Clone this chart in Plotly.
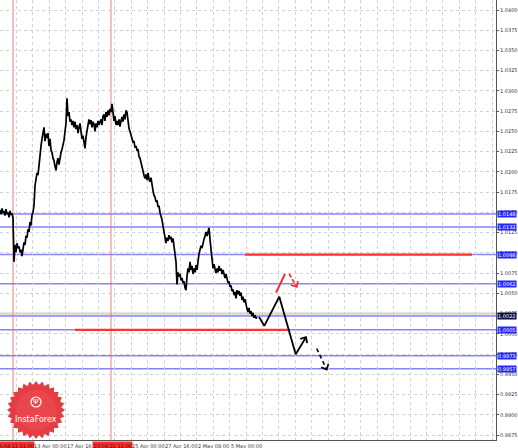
import math
import plotly.graph_objects as go

# ---------------- data ----------------
price = [
    1.0153, 1.0148, 1.0155, 1.0149, 1.0152, 1.0146, 1.0154, 1.0148, 1.0150, 1.0144,
    1.0152, 1.0147, 1.0149, 1.0143, 1.0089, 1.0110, 1.0101, 1.0112, 1.0106, 1.0108,
    1.0101, 1.0104, 1.0096, 1.0106, 1.0113, 1.0110, 1.0121, 1.0119, 1.0129, 1.0126,
    1.0138, 1.0134, 1.0147, 1.0150, 1.0159, 1.0183, 1.0192, 1.0199, 1.0196, 1.0212,
    1.0218, 1.0232, 1.0241, 1.0248, 1.0255, 1.0238, 1.0247, 1.0242, 1.0248, 1.0232,
    1.0241, 1.0227, 1.0224, 1.0217, 1.0214, 1.0207, 1.0202, 1.0212, 1.0217, 1.0209,
    1.0219, 1.0224, 1.0228, 1.0233, 1.0239, 1.0250, 1.0260, 1.0291, 1.0269, 1.0274,
    1.0262, 1.0265, 1.0258, 1.0263, 1.0255, 1.0262, 1.0253, 1.0258, 1.0248, 1.0255,
    1.0260, 1.0250, 1.0241, 1.0245, 1.0235, 1.0229, 1.0243, 1.0253, 1.0258, 1.0265,
    1.0259, 1.0264, 1.0255, 1.0262, 1.0259, 1.0250, 1.0260, 1.0255, 1.0263, 1.0258,
    1.0262, 1.0265, 1.0258, 1.0269, 1.0271, 1.0263, 1.0274, 1.0268, 1.0276, 1.0270,
    1.0278, 1.0274, 1.0284, 1.0271, 1.0263, 1.0269, 1.0258, 1.0263, 1.0258, 1.0265,
    1.0256, 1.0263, 1.0268, 1.0262, 1.0271, 1.0265, 1.0276, 1.0274, 1.0260, 1.0254,
    1.0250, 1.0245, 1.0243, 1.0237, 1.0238, 1.0230, 1.0232, 1.0227, 1.0228, 1.0219,
    1.0217, 1.0211, 1.0207, 1.0202, 1.0196, 1.0192, 1.0197, 1.0190, 1.0199, 1.0191,
    1.0188, 1.0193, 1.0183, 1.0177, 1.0171, 1.0169, 1.0163, 1.0165, 1.0157, 1.0158,
    1.0150, 1.0146, 1.0141, 1.0133, 1.0127, 1.0121, 1.0112, 1.0119, 1.0115, 1.0122,
    1.0117, 1.0120, 1.0113, 1.0118, 1.0109, 1.0098, 1.0089, 1.0061, 1.0076, 1.0071,
    1.0074, 1.0066, 1.0069, 1.0063, 1.0065, 1.0057, 1.0054, 1.0071, 1.0081, 1.0076,
    1.0089, 1.0079, 1.0084, 1.0074, 1.0081, 1.0076, 1.0085, 1.0079, 1.0094, 1.0099,
    1.0104, 1.0109, 1.0106, 1.0113, 1.0117, 1.0121, 1.0126, 1.0121, 1.0129, 1.0131,
    1.0117, 1.0104, 1.0089, 1.0081, 1.0086, 1.0079, 1.0075, 1.0081, 1.0076, 1.0084,
    1.0078, 1.0081, 1.0074, 1.0079, 1.0071, 1.0069, 1.0074, 1.0066, 1.0063, 1.0065,
    1.0058, 1.0060, 1.0053, 1.0055, 1.0048, 1.0052, 1.0044, 1.0054, 1.0049, 1.0053,
    1.0047, 1.0051, 1.0042, 1.0046, 1.0039, 1.0043, 1.0034, 1.0031, 1.0027, 1.0032,
    1.0025, 1.0028, 1.0022, 1.0026, 1.0020, 1.0023, 1.0019, 1.0021,
]
bar_index = list(range(len(price)))

blue_levels = [1.0148, 1.0132, 1.0098, 1.0062, 1.0022, 1.0005, 0.9973, 0.9957]
blue_labels = ["1.0148", "1.0132", "1.0098", "1.0062", "1.0022", "1.0005", "0.9973", "0.9957"]
bid_level = 1.0025

red_levels = [1.0098, 1.0005]
red_start = [245, 75]
red_end = [472, 290]

vline_x = [13, 111]
vline_labels = ["23.04.11 11:00", "23.04.21 11:00"]

xtick_pos = [32.8, 65.6, 131.2, 164.0, 196.8, 229.6]
xtick_text = ["13 Apr 00:00", "17 Apr 16:00", "25 Apr 00:00",
              "27 Apr 16:00", "2 May 08:00", "5 May 00:00"]

# forecast paths
fc_main_x = [259, 264.3, 279.3, 295.7, 306]
fc_main_y = [1.0021, 1.0010, 1.0046, 0.9975, 0.9996]
fc_dash_x = [316.7, 326.7]
fc_dash_y = [0.9982, 0.9956]
red_up_x = [276, 285]
red_up_y = [1.0051, 1.0074]
red_dn_x = [289.3, 296.7]
red_dn_y = [1.0074, 1.0058]

# ---------------- layout constants ----------------
W, H = 518, 448
ML, MR, MT, MB = 0, 22, 0, 8
PW, PH = W - ML - MR, H - MT - MB
X_RANGE = [0, 496]
Y_RANGE = [0.98690, 1.041235]
kx = PW / (X_RANGE[1] - X_RANGE[0])
ky = PH / (Y_RANGE[1] - Y_RANGE[0])


def chevron(xs, ys, size=6.0, ang=42):
    x0, y0, x1, y1 = xs[-2], ys[-2], xs[-1], ys[-1]
    dx, dy = (x0 - x1) * kx, (y0 - y1) * ky
    L = math.hypot(dx, dy)
    ux, uy = dx / L, dy / L
    pts = []
    for s in (1, -1):
        a = math.radians(ang * s)
        rx = ux * math.cos(a) - uy * math.sin(a)
        ry = ux * math.sin(a) + uy * math.cos(a)
        pts.append((x1 + rx * size / kx, y1 + ry * size / ky))
    return [pts[0][0], x1, pts[1][0]], [pts[0][1], y1, pts[1][1]]


fig = go.Figure()

# price
fig.add_trace(go.Scatter(x=bar_index, y=price, mode="lines",
                         line=dict(color="black", width=1.7), hoverinfo="skip"))

# red segments
for lv, a, b in zip(red_levels, red_start, red_end):
    fig.add_trace(go.Scatter(x=[a, b], y=[lv, lv], mode="lines",
                             line=dict(color="#ff3333", width=2.2), hoverinfo="skip"))

# forecast black
fig.add_trace(go.Scatter(x=fc_main_x, y=fc_main_y, mode="lines",
                         line=dict(color="black", width=1.8), hoverinfo="skip"))
hx, hy = chevron(fc_main_x, fc_main_y)
fig.add_trace(go.Scatter(x=hx, y=hy, mode="lines", line=dict(color="black", width=1.8),
                         hoverinfo="skip"))
fig.add_trace(go.Scatter(x=fc_dash_x, y=fc_dash_y, mode="lines",
                         line=dict(color="black", width=1.6, dash="4px,3px"), hoverinfo="skip"))
hx, hy = chevron(fc_dash_x, fc_dash_y)
fig.add_trace(go.Scatter(x=hx, y=hy, mode="lines", line=dict(color="black", width=1.6),
                         hoverinfo="skip"))
# forecast red
fig.add_trace(go.Scatter(x=red_up_x, y=red_up_y, mode="lines",
                         line=dict(color="#ff2020", width=1.8), hoverinfo="skip"))
fig.add_trace(go.Scatter(x=red_dn_x, y=red_dn_y, mode="lines",
                         line=dict(color="#ff2020", width=1.6, dash="4px,2px"), hoverinfo="skip"))
hx, hy = chevron(red_dn_x, red_dn_y)
fig.add_trace(go.Scatter(x=hx, y=hy, mode="lines", line=dict(color="#ff2020", width=1.6),
                         hoverinfo="skip"))

shapes = []
# bid band
shapes.append(dict(type="line", xref="paper", x0=0, x1=1, yref="y", y0=bid_level, y1=bid_level,
                   line=dict(color="#dddddd", width=3), layer="between"))
# blue levels
for lv in blue_levels:
    shapes.append(dict(type="line", xref="paper", x0=0, x1=1, yref="y", y0=lv, y1=lv,
                       line=dict(color="rgba(110,110,255,0.85)", width=1.5), layer="between"))
# vertical red lines
for vx in vline_x:
    shapes.append(dict(type="line", xref="x", x0=vx, x1=vx, yref="paper", y0=0, y1=1,
                       line=dict(color="rgba(240,90,90,0.8)", width=1), layer="between"))

# logo starburst
cxp, cyp = 36, 410
R_out, R_in, n = 29, 25.5, 28
pts = []
for i in range(2 * n):
    r = R_out if i % 2 == 0 else R_in
    t = math.pi * i / n
    px = cxp + r * math.cos(t)
    py = cyp + r * math.sin(t)
    pts.append((px / PW, 1 - py / PH))
path = "M " + " L ".join(f"{x:.5f},{y:.5f}" for x, y in pts) + " Z"
shapes.append(dict(type="path", xref="paper", yref="paper", path=path,
                   fillcolor="rgba(226,52,58,0.95)", line=dict(width=0), layer="above"))
shapes.append(dict(type="circle", xref="paper", yref="paper",
                   x0=(cxp - 20) / PW, x1=(cxp + 20) / PW,
                   y0=1 - (cyp + 20) / PH, y1=1 - (cyp - 20) / PH,
                   fillcolor="rgba(240,80,85,0.5)", line=dict(width=0), layer="above"))
shapes.append(dict(type="circle", xref="paper", yref="paper",
                   x0=(cxp - 5) / PW, x1=(cxp + 5) / PW,
                   y0=1 - (cyp - 3) / PH, y1=1 - (cyp - 13) / PH,
                   fillcolor="rgba(0,0,0,0)", line=dict(color="white", width=1.2), layer="above"))

annotations = []
for lv, txt in zip(blue_levels, blue_labels):
    annotations.append(dict(x=1, xref="paper", xanchor="left", xshift=1, y=lv, yref="y",
                            text=txt, showarrow=False, borderpad=0,
                            bgcolor="#0c0c40" if txt == "1.0022" else "#2626ff",
                            font=dict(color="white", size=5, family="DejaVu Sans")))
for xp, txt in zip(xtick_pos, xtick_text):
    annotations.append(dict(x=xp, xref="x", xanchor="left", xshift=-1, y=0, yref="paper",
                            yanchor="top", yshift=-1, text=txt, showarrow=False,
                            font=dict(color="#333333", size=5, family="DejaVu Sans")))
for vx, txt in zip(vline_x, vline_labels):
    annotations.append(dict(x=vx, xref="x", xanchor="center", xshift=1.5, y=0, yref="paper",
                            yanchor="top", yshift=-0.5, text=txt, showarrow=False,
                            bgcolor="#ff2a2a", borderpad=0.5,
                            font=dict(color="#222222", size=5, family="DejaVu Sans")))
annotations.append(dict(x=cxp / PW, xref="paper", xanchor="center", y=1 - (cyp + 9) / PH,
                        yref="paper", yanchor="middle", text="InstaForex", showarrow=False,
                        font=dict(color="white", size=8, family="DejaVu Sans")))
annotations.append(dict(x=cxp / PW, xref="paper", xanchor="center", y=1 - (cyp - 8) / PH,
                        yref="paper", yanchor="middle", text="Ψ", showarrow=False,
                        font=dict(color="white", size=7, family="DejaVu Sans")))

fig.update_layout(
    width=W, height=H,
    margin=dict(l=ML, r=MR, t=MT, b=MB),
    paper_bgcolor="white", plot_bgcolor="white",
    showlegend=False,
    shapes=shapes, annotations=annotations,
    xaxis=dict(range=X_RANGE, tick0=0, dtick=16.4, showgrid=True, gridcolor="#d2d2d2",
               griddash="dot", gridwidth=1, showticklabels=False, ticks="",
               showline=True, linecolor="#555555", linewidth=1, zeroline=False, fixedrange=True),
    yaxis=dict(range=Y_RANGE, side="right", tick0=0, dtick=0.0025, tickformat=".4f",
               showgrid=True, gridcolor="#d2d2d2", griddash="dot", gridwidth=1,
               ticks="outside", ticklen=2, tickcolor="#555555",
               tickfont=dict(size=5, color="#333333", family="DejaVu Sans"),
               showline=True, linecolor="#555555", linewidth=1, zeroline=False, fixedrange=True),
)

fig.write_html("out.html", config={"displayModeBar": False},
               post_script="document.body.style.margin='0px';document.body.style.padding='0px';")
